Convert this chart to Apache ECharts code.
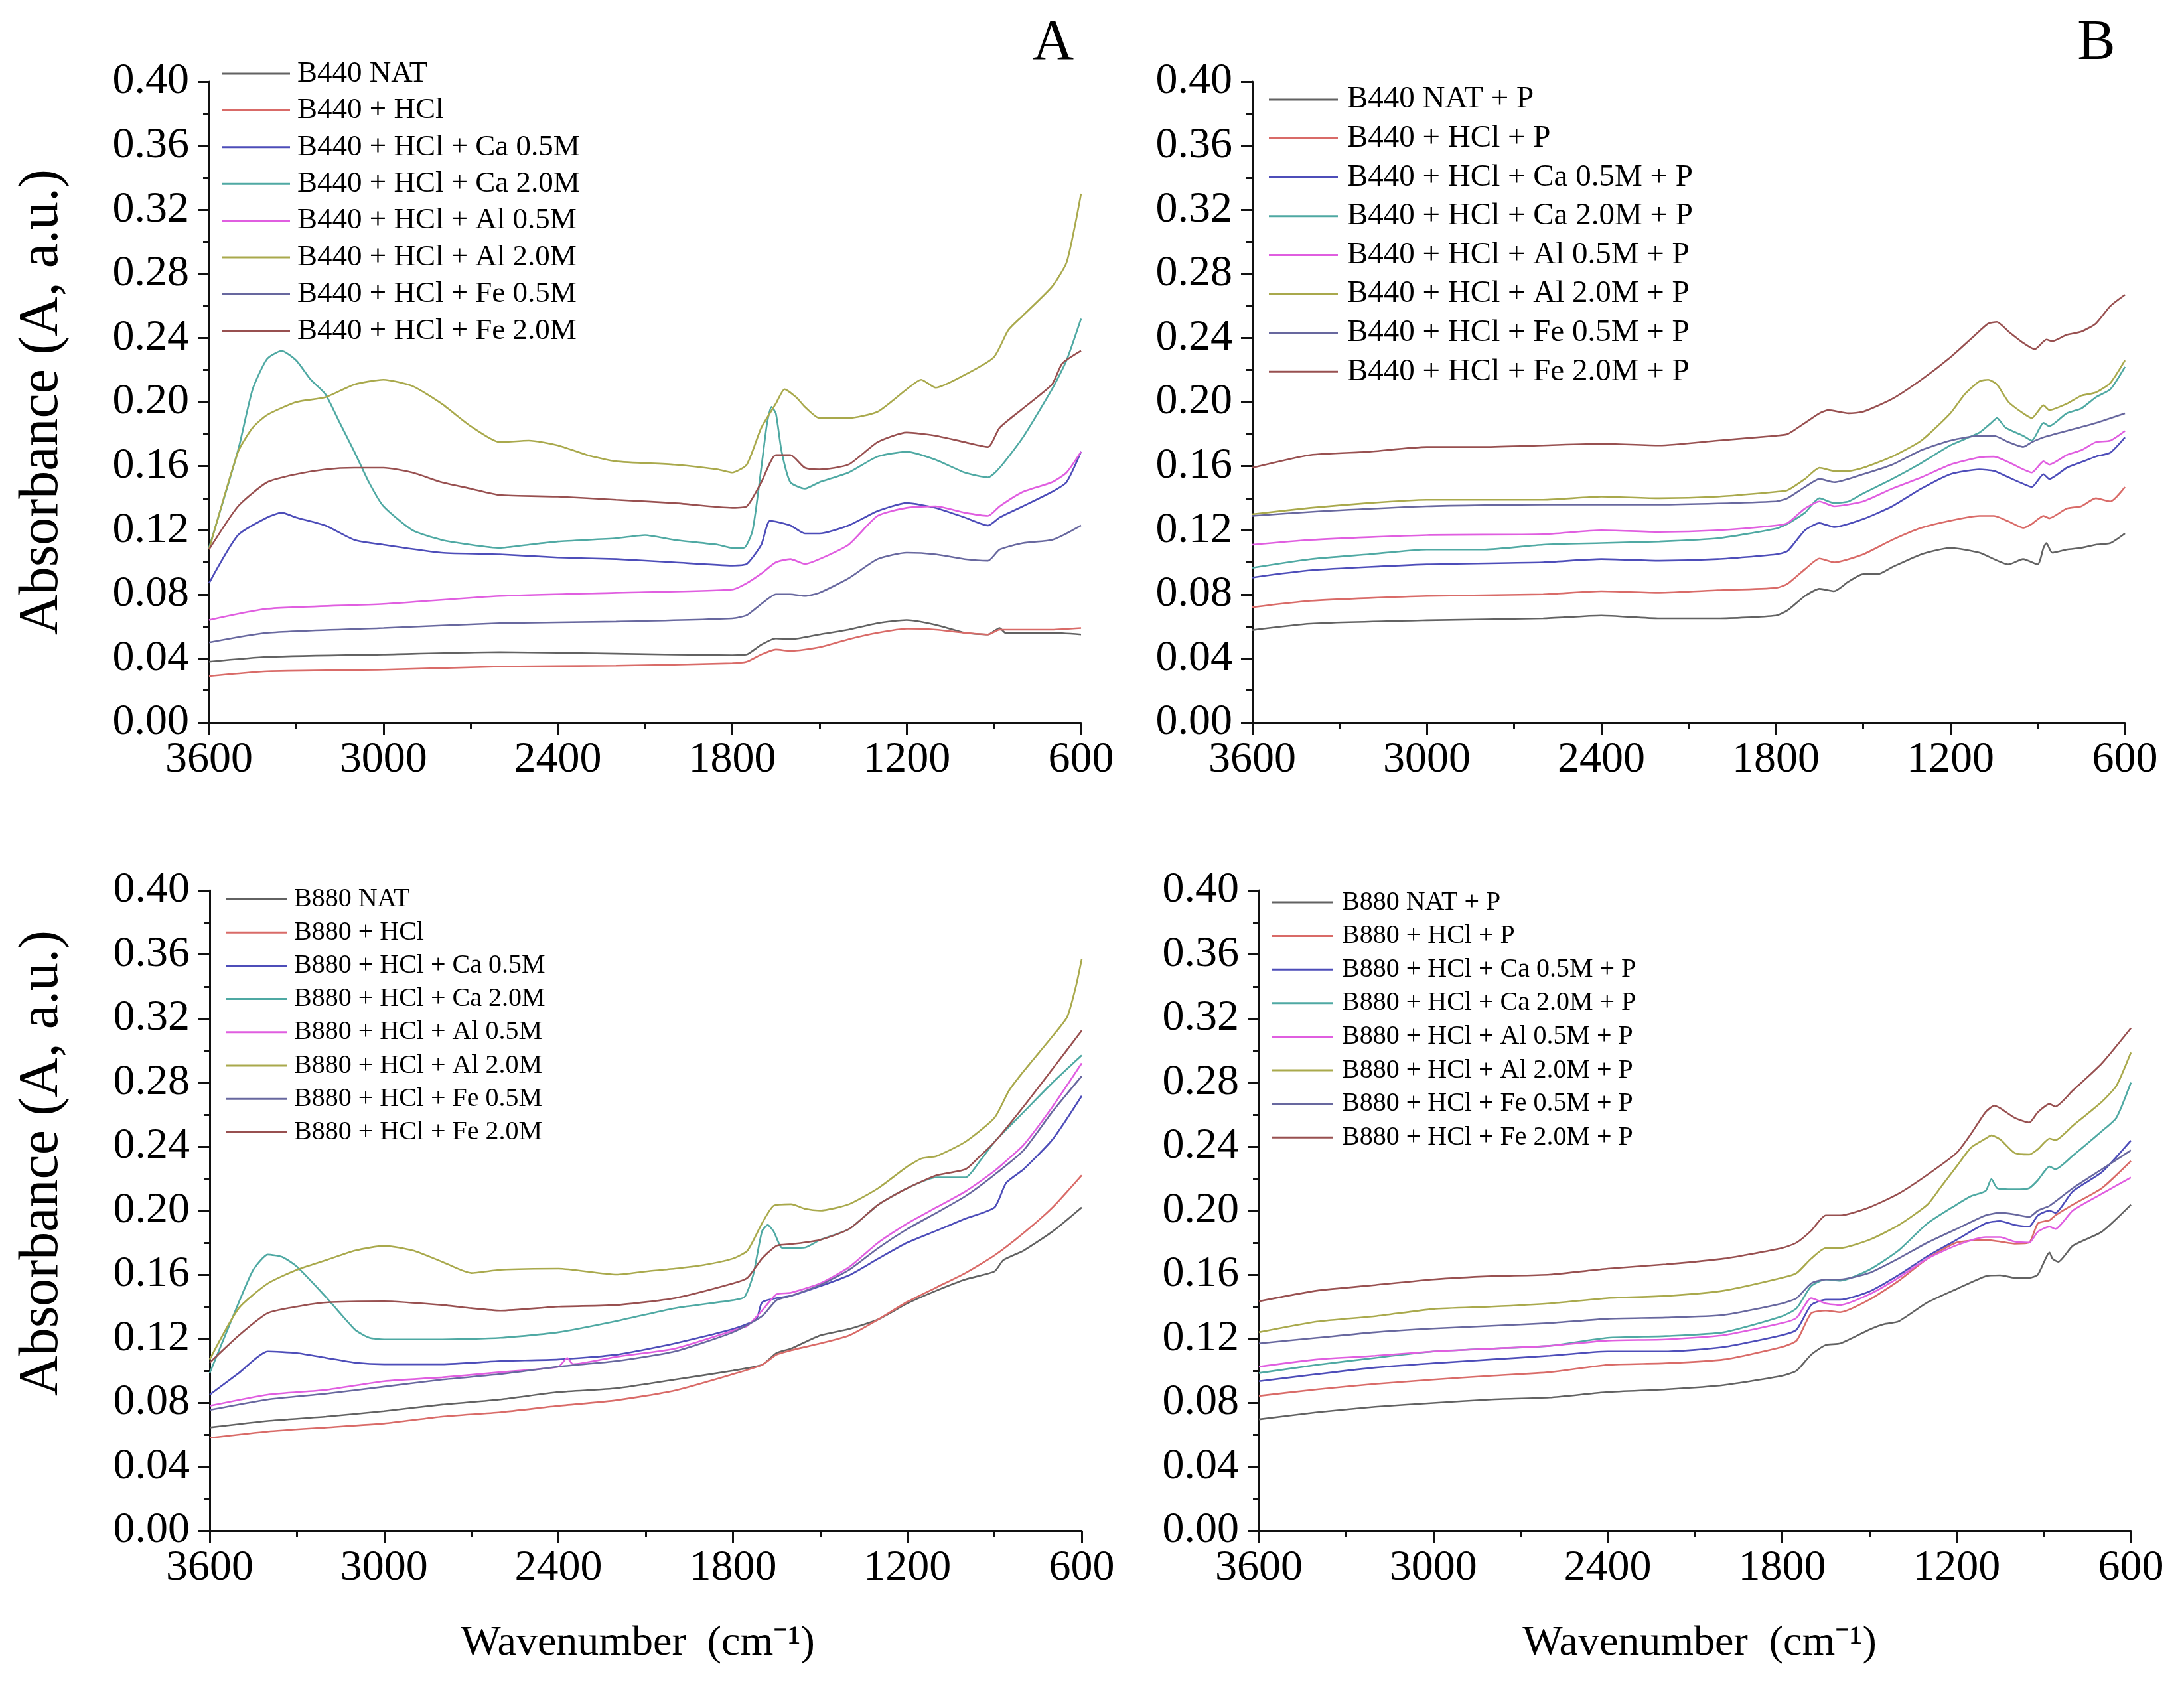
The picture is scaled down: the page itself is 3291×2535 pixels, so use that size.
<!DOCTYPE html>
<html>
<head>
<meta charset="utf-8">
<script src="https://cdn.jsdelivr.net/npm/echarts@6/dist/echarts.min.js"></script>
<style>
  html, body { margin: 0; padding: 0; background: #fff; }
  #chart { width: 3291px; height: 2535px; }
</style>
</head>
<body>
<div id="chart"></div>
<script>
// Espectros FTIR en cuatro paneles: B440 (arriba), B880 (abajo), sin P (izq.) y con P (der.)
// Cada serie: pares [número de onda (cm-1), absorbancia]

const SERIES_KEYS = ['NAT', 'HCl', 'Ca 0.5M', 'Ca 2.0M', 'Al 0.5M', 'Al 2.0M', 'Fe 0.5M', 'Fe 2.0M'];
const COLORS = ['#626262', '#d96b68', '#4d4db9', '#4fa9a3', '#e05ee0', '#a9a94c', '#68689f', '#985050'];

const NAMES_A = ['B440 NAT', 'B440 + HCl', 'B440 + HCl + Ca 0.5M', 'B440 + HCl + Ca 2.0M',
  'B440 + HCl + Al 0.5M', 'B440 + HCl + Al 2.0M', 'B440 + HCl + Fe 0.5M', 'B440 + HCl + Fe 2.0M'];
const NAMES_B = NAMES_A.map(n => n + ' + P');
const NAMES_C = NAMES_A.map(n => n.replace('B440', 'B880'));
const NAMES_D = NAMES_C.map(n => n + ' + P');

const X_TICKS = [600, 3600, 600];      // min, max, intervalo
const Y_TICKS = [0, 0.40, 0.04];

// ---- Panel A: B440 ----
const A_NAT  = [[3600,0.038],[3400,0.041],[3000,0.0425],[2600,0.044],[2200,0.043],[1800,0.042],[1750,0.0425],[1700,0.0486],[1650,0.0525],[1600,0.052],[1500,0.055],[1400,0.058],[1300,0.062],[1200,0.064],[1100,0.061],[1000,0.056],[920,0.055],[880,0.059],[860,0.056],[800,0.056],[700,0.056],[600,0.055]];
const A_HCL  = [[3600,0.029],[3400,0.032],[3000,0.033],[2600,0.035],[2200,0.0355],[1800,0.037],[1750,0.038],[1700,0.0425],[1650,0.0456],[1600,0.0447],[1500,0.047],[1400,0.052],[1300,0.056],[1200,0.0586],[1100,0.058],[1000,0.056],[920,0.055],[880,0.058],[800,0.058],[700,0.058],[600,0.059]];
const A_CA05 = [[3600,0.087],[3500,0.117],[3400,0.128],[3350,0.131],[3300,0.128],[3200,0.123],[3100,0.114],[3000,0.111],[2800,0.106],[2600,0.105],[2400,0.103],[2200,0.102],[2000,0.100],[1800,0.098],[1750,0.099],[1700,0.111],[1670,0.126],[1600,0.123],[1550,0.118],[1500,0.118],[1400,0.123],[1300,0.132],[1200,0.137],[1100,0.134],[1000,0.128],[920,0.123],[880,0.128],[800,0.135],[700,0.144],[650,0.150],[600,0.169]];
const A_CA20 = [[3600,0.109],[3500,0.170],[3450,0.208],[3400,0.227],[3350,0.232],[3300,0.226],[3250,0.214],[3200,0.205],[3150,0.187],[3100,0.169],[3050,0.150],[3000,0.135],[2900,0.120],[2800,0.114],[2700,0.111],[2600,0.109],[2500,0.111],[2400,0.113],[2200,0.115],[2100,0.117],[2000,0.114],[1850,0.111],[1800,0.109],[1760,0.109],[1730,0.120],[1700,0.159],[1680,0.187],[1665,0.197],[1650,0.193],[1630,0.169],[1600,0.150],[1550,0.146],[1500,0.150],[1400,0.156],[1300,0.166],[1200,0.169],[1100,0.164],[1000,0.156],[920,0.153],[880,0.159],[800,0.178],[700,0.208],[650,0.226],[600,0.252]];
const A_AL05 = [[3600,0.064],[3400,0.071],[3000,0.074],[2600,0.079],[2200,0.081],[1800,0.083],[1750,0.087],[1700,0.093],[1650,0.100],[1600,0.102],[1550,0.099],[1500,0.102],[1400,0.111],[1300,0.129],[1200,0.134],[1100,0.135],[1000,0.131],[920,0.129],[880,0.135],[800,0.144],[700,0.150],[650,0.156],[600,0.169]];
const A_AL20 = [[3600,0.108],[3500,0.169],[3450,0.184],[3400,0.192],[3300,0.200],[3200,0.203],[3100,0.211],[3000,0.214],[2900,0.210],[2800,0.199],[2700,0.185],[2600,0.175],[2500,0.176],[2400,0.173],[2300,0.167],[2200,0.163],[2000,0.161],[1850,0.158],[1800,0.156],[1750,0.161],[1700,0.184],[1650,0.199],[1620,0.208],[1580,0.203],[1550,0.197],[1500,0.190],[1400,0.190],[1300,0.194],[1200,0.208],[1150,0.214],[1100,0.209],[1000,0.217],[900,0.228],[850,0.245],[800,0.254],[700,0.272],[650,0.287],[620,0.311],[600,0.330]];
const A_FE05 = [[3600,0.050],[3400,0.056],[3000,0.059],[2600,0.062],[2200,0.063],[1800,0.065],[1750,0.067],[1700,0.074],[1650,0.080],[1600,0.080],[1550,0.079],[1500,0.081],[1400,0.090],[1300,0.102],[1200,0.106],[1100,0.105],[1000,0.102],[920,0.101],[880,0.108],[800,0.112],[700,0.114],[650,0.118],[600,0.123]];
const A_FE20 = [[3600,0.108],[3500,0.135],[3400,0.150],[3300,0.155],[3200,0.158],[3100,0.159],[3000,0.159],[2900,0.156],[2800,0.150],[2700,0.146],[2600,0.142],[2400,0.141],[2200,0.139],[2000,0.137],[1800,0.134],[1750,0.135],[1700,0.150],[1650,0.167],[1600,0.167],[1550,0.159],[1500,0.158],[1400,0.161],[1300,0.175],[1200,0.181],[1100,0.179],[1000,0.175],[920,0.172],[880,0.184],[800,0.196],[700,0.211],[665,0.224],[600,0.232]];

// ---- Panel B: B440 + P ----
const B_NAT  = [[3600,0.0577],[3400,0.0617],[3000,0.0638],[2600,0.065],[2400,0.0668],[2200,0.065],[2000,0.065],[1800,0.0668],[1760,0.070],[1700,0.079],[1650,0.0835],[1600,0.082],[1550,0.088],[1500,0.0926],[1450,0.0926],[1400,0.097],[1300,0.105],[1200,0.109],[1100,0.106],[1000,0.0987],[950,0.102],[900,0.0987],[880,0.109],[870,0.112],[850,0.106],[800,0.108],[750,0.109],[700,0.111],[650,0.112],[600,0.118]];
const B_HCL  = [[3600,0.072],[3400,0.076],[3000,0.079],[2600,0.080],[2400,0.082],[2200,0.081],[2000,0.0826],[1800,0.084],[1760,0.0866],[1700,0.0957],[1650,0.1024],[1600,0.100],[1500,0.105],[1400,0.114],[1300,0.1215],[1200,0.126],[1100,0.129],[1050,0.129],[1000,0.1255],[950,0.1215],[920,0.124],[880,0.129],[860,0.1275],[800,0.1336],[750,0.135],[700,0.140],[650,0.138],[600,0.147]];
const B_CA05 = [[3600,0.0905],[3400,0.095],[3000,0.0987],[2600,0.100],[2400,0.102],[2200,0.101],[2000,0.102],[1800,0.105],[1760,0.107],[1700,0.120],[1650,0.1245],[1600,0.122],[1500,0.127],[1400,0.135],[1300,0.146],[1200,0.155],[1100,0.158],[1050,0.157],[1000,0.153],[950,0.149],[920,0.147],[880,0.155],[860,0.152],[800,0.159],[750,0.1625],[700,0.166],[650,0.1685],[600,0.178]];
const B_CA20 = [[3600,0.0966],[3400,0.102],[3200,0.105],[3000,0.108],[2800,0.108],[2600,0.111],[2400,0.112],[2200,0.113],[2000,0.115],[1800,0.121],[1760,0.124],[1700,0.131],[1650,0.140],[1600,0.137],[1550,0.138],[1500,0.143],[1400,0.152],[1300,0.162],[1200,0.173],[1100,0.181],[1060,0.187],[1040,0.190],[1010,0.184],[950,0.179],[920,0.176],[880,0.187],[860,0.185],[800,0.193],[750,0.196],[700,0.203],[650,0.208],[600,0.222]];
const B_AL05 = [[3600,0.111],[3400,0.114],[3000,0.117],[2600,0.1175],[2400,0.120],[2200,0.119],[2000,0.120],[1800,0.123],[1760,0.1245],[1700,0.1336],[1650,0.138],[1600,0.135],[1500,0.138],[1400,0.146],[1300,0.153],[1200,0.161],[1100,0.1655],[1050,0.166],[1000,0.1625],[950,0.158],[920,0.156],[880,0.163],[860,0.161],[800,0.167],[750,0.170],[700,0.175],[650,0.176],[600,0.182]];
const B_AL20 = [[3600,0.130],[3400,0.134],[3200,0.137],[3000,0.139],[2600,0.139],[2400,0.141],[2200,0.140],[2000,0.141],[1800,0.144],[1760,0.145],[1700,0.152],[1650,0.159],[1600,0.157],[1550,0.157],[1500,0.159],[1400,0.166],[1300,0.176],[1200,0.193],[1150,0.205],[1100,0.213],[1070,0.214],[1040,0.211],[1000,0.200],[950,0.193],[920,0.190],[880,0.198],[860,0.195],[800,0.199],[750,0.204],[700,0.206],[650,0.212],[600,0.226]];
const B_FE05 = [[3600,0.129],[3400,0.1315],[3000,0.135],[2600,0.136],[2200,0.136],[1800,0.138],[1760,0.140],[1700,0.147],[1650,0.152],[1600,0.150],[1500,0.155],[1400,0.161],[1300,0.170],[1200,0.176],[1100,0.179],[1050,0.179],[1000,0.175],[950,0.172],[920,0.175],[880,0.178],[800,0.182],[700,0.187],[600,0.193]];
const B_FE20 = [[3600,0.159],[3400,0.167],[3200,0.169],[3000,0.172],[2800,0.172],[2600,0.173],[2400,0.174],[2200,0.173],[2000,0.176],[1800,0.179],[1760,0.180],[1700,0.187],[1650,0.193],[1620,0.195],[1550,0.193],[1500,0.194],[1400,0.202],[1300,0.214],[1200,0.228],[1120,0.241],[1070,0.249],[1040,0.250],[1000,0.244],[950,0.237],[910,0.233],[870,0.239],[850,0.238],[800,0.242],[750,0.244],[700,0.249],[650,0.260],[600,0.267]];

// ---- Panel C: B880 ----
const C_NAT  = [[3600,0.0645],[3400,0.0686],[3200,0.0713],[3000,0.0747],[2800,0.0788],[2600,0.082],[2400,0.0866],[2200,0.089],[2000,0.0944],[1800,0.100],[1700,0.1036],[1650,0.111],[1600,0.1138],[1500,0.122],[1400,0.126],[1300,0.132],[1200,0.142],[1100,0.150],[1000,0.157],[900,0.162],[870,0.169],[800,0.175],[700,0.187],[600,0.202]];
const C_HCL  = [[3600,0.058],[3400,0.062],[3200,0.0645],[3000,0.067],[2800,0.0713],[2600,0.074],[2400,0.078],[2200,0.0815],[2000,0.0876],[1800,0.0978],[1700,0.1036],[1650,0.110],[1600,0.1127],[1500,0.117],[1400,0.122],[1300,0.132],[1200,0.143],[1100,0.152],[1000,0.161],[900,0.172],[800,0.186],[700,0.202],[600,0.222]];
const C_CA05 = [[3600,0.085],[3500,0.0985],[3400,0.112],[3300,0.111],[3200,0.108],[3100,0.105],[3000,0.104],[2800,0.104],[2600,0.106],[2400,0.107],[2200,0.110],[2000,0.117],[1800,0.126],[1720,0.132],[1700,0.1426],[1650,0.1453],[1600,0.1467],[1500,0.1528],[1400,0.1596],[1300,0.170],[1200,0.180],[1100,0.1874],[1000,0.195],[900,0.202],[860,0.2173],[800,0.2258],[700,0.2445],[600,0.2716]];
const C_CA20 = [[3600,0.0985],[3500,0.1426],[3450,0.163],[3400,0.1725],[3350,0.171],[3300,0.165],[3200,0.146],[3100,0.1256],[3050,0.1205],[3000,0.1195],[2800,0.1195],[2600,0.1205],[2400,0.124],[2200,0.131],[2000,0.139],[1800,0.144],[1760,0.146],[1730,0.160],[1700,0.187],[1680,0.191],[1660,0.187],[1630,0.1766],[1600,0.1766],[1550,0.177],[1500,0.1817],[1400,0.1885],[1300,0.2037],[1200,0.214],[1100,0.2207],[1000,0.2207],[950,0.231],[900,0.243],[800,0.2615],[700,0.280],[600,0.297]];
const C_AL05 = [[3600,0.078],[3400,0.085],[3200,0.088],[3000,0.0934],[2800,0.0958],[2600,0.099],[2400,0.1025],[2370,0.108],[2350,0.104],[2200,0.1087],[2000,0.1138],[1800,0.125],[1750,0.128],[1700,0.1375],[1650,0.1477],[1600,0.1487],[1500,0.1545],[1400,0.1647],[1300,0.180],[1200,0.192],[1100,0.202],[1000,0.212],[900,0.2248],[860,0.231],[800,0.241],[700,0.265],[600,0.292]];
const C_AL20 = [[3600,0.107],[3500,0.139],[3400,0.1545],[3300,0.163],[3200,0.169],[3100,0.175],[3000,0.178],[2900,0.175],[2800,0.168],[2700,0.161],[2600,0.163],[2400,0.1637],[2200,0.160],[2100,0.162],[2000,0.1637],[1900,0.166],[1800,0.170],[1750,0.175],[1700,0.192],[1660,0.203],[1600,0.204],[1550,0.201],[1500,0.200],[1400,0.204],[1300,0.214],[1200,0.2275],[1150,0.2326],[1100,0.234],[1000,0.243],[900,0.258],[850,0.275],[800,0.287],[700,0.309],[650,0.321],[620,0.340],[600,0.357]];
const C_FE05 = [[3600,0.0754],[3400,0.082],[3200,0.0856],[3000,0.090],[2800,0.0944],[2600,0.0978],[2400,0.1025],[2200,0.106],[2000,0.112],[1800,0.124],[1700,0.134],[1650,0.144],[1600,0.1467],[1500,0.1535],[1400,0.163],[1300,0.1766],[1200,0.1885],[1100,0.1986],[1000,0.209],[900,0.2224],[800,0.2377],[700,0.262],[600,0.284]];
const C_FE20 = [[3600,0.105],[3500,0.122],[3400,0.136],[3300,0.140],[3200,0.1426],[3000,0.1433],[2800,0.141],[2700,0.139],[2600,0.1375],[2400,0.140],[2200,0.141],[2000,0.1453],[1800,0.1545],[1750,0.158],[1700,0.170],[1650,0.178],[1600,0.179],[1500,0.1817],[1400,0.1885],[1300,0.2037],[1200,0.214],[1100,0.222],[1000,0.2258],[950,0.234],[900,0.2428],[800,0.265],[700,0.2886],[600,0.3124]];

// ---- Panel D: B880 + P ----
const D_NAT  = [[3600,0.0696],[3400,0.074],[3200,0.0774],[3000,0.0798],[2800,0.082],[2600,0.0832],[2400,0.0866],[2200,0.0883],[2000,0.091],[1800,0.0968],[1750,0.100],[1700,0.110],[1650,0.116],[1600,0.117],[1500,0.1256],[1450,0.129],[1400,0.1307],[1300,0.1426],[1200,0.151],[1100,0.159],[1050,0.1596],[1000,0.158],[950,0.158],[920,0.160],[880,0.1738],[870,0.170],[850,0.168],[800,0.178],[700,0.1868],[600,0.2037]];
const D_HCL  = [[3600,0.0842],[3400,0.0883],[3200,0.0917],[3000,0.0944],[2800,0.0968],[2600,0.099],[2400,0.1036],[2200,0.1046],[2000,0.107],[1800,0.1148],[1750,0.1188],[1700,0.1358],[1650,0.1375],[1600,0.1365],[1500,0.1443],[1400,0.156],[1300,0.170],[1200,0.180],[1100,0.1817],[1050,0.1806],[1000,0.1793],[950,0.180],[920,0.192],[880,0.194],[860,0.197],[800,0.2037],[700,0.214],[600,0.231]];
const D_CA05 = [[3600,0.0934],[3400,0.0978],[3200,0.1019],[3000,0.1046],[2800,0.107],[2600,0.1093],[2400,0.112],[2200,0.112],[2000,0.1148],[1800,0.1222],[1750,0.1256],[1700,0.141],[1650,0.1443],[1600,0.1443],[1500,0.1494],[1400,0.1596],[1300,0.1715],[1200,0.1817],[1100,0.192],[1050,0.1935],[1000,0.191],[950,0.190],[920,0.197],[880,0.200],[860,0.1986],[800,0.212],[700,0.224],[600,0.2438]];
const D_CA20 = [[3600,0.0985],[3400,0.1036],[3200,0.108],[3000,0.112],[2800,0.1138],[2600,0.1155],[2400,0.1205],[2200,0.1216],[2000,0.124],[1800,0.134],[1750,0.139],[1700,0.1528],[1650,0.157],[1600,0.1562],[1500,0.163],[1400,0.175],[1300,0.192],[1200,0.2037],[1150,0.209],[1100,0.2122],[1080,0.2197],[1060,0.214],[1000,0.2132],[950,0.214],[920,0.219],[880,0.2275],[860,0.2258],[800,0.2343],[700,0.2496],[650,0.258],[600,0.280]];
const D_AL05 = [[3600,0.1025],[3400,0.107],[3200,0.1093],[3000,0.112],[2800,0.1138],[2600,0.1155],[2400,0.1188],[2200,0.1195],[2000,0.1222],[1800,0.1297],[1750,0.133],[1700,0.1453],[1650,0.142],[1600,0.141],[1500,0.1477],[1400,0.158],[1300,0.170],[1200,0.1783],[1100,0.1834],[1050,0.1834],[1000,0.1806],[950,0.180],[920,0.1868],[880,0.190],[860,0.1885],[800,0.200],[700,0.2105],[600,0.2207]];
const D_AL20 = [[3600,0.124],[3400,0.1307],[3200,0.134],[3000,0.1385],[2800,0.140],[2600,0.142],[2400,0.1453],[2200,0.1467],[2000,0.150],[1800,0.158],[1750,0.161],[1700,0.170],[1650,0.1766],[1600,0.1766],[1500,0.1817],[1400,0.1908],[1300,0.2037],[1250,0.2156],[1200,0.2275],[1150,0.2394],[1100,0.245],[1080,0.247],[1050,0.2445],[1000,0.236],[950,0.235],[920,0.2384],[880,0.245],[860,0.244],[800,0.253],[700,0.268],[650,0.278],[600,0.2988]];
const D_FE05 = [[3600,0.117],[3400,0.1205],[3200,0.124],[3000,0.1263],[2800,0.128],[2600,0.1297],[2400,0.1324],[2200,0.1331],[2000,0.1348],[1800,0.142],[1750,0.1453],[1700,0.1545],[1650,0.157],[1600,0.157],[1500,0.161],[1400,0.170],[1300,0.180],[1200,0.1885],[1100,0.197],[1050,0.1986],[1000,0.1976],[950,0.196],[920,0.200],[880,0.203],[800,0.214],[700,0.2258],[600,0.2377]];
const D_FE20 = [[3600,0.1433],[3400,0.150],[3200,0.1535],[3000,0.157],[2800,0.159],[2600,0.160],[2400,0.1637],[2200,0.1664],[2000,0.170],[1800,0.1766],[1750,0.180],[1700,0.1874],[1650,0.197],[1600,0.197],[1500,0.202],[1400,0.2105],[1300,0.2224],[1200,0.236],[1150,0.248],[1100,0.2615],[1070,0.2655],[1050,0.264],[1000,0.258],[950,0.255],[920,0.2615],[880,0.2666],[860,0.265],[800,0.275],[700,0.292],[600,0.314]];

const DATA_A = [A_NAT, A_HCL, A_CA05, A_CA20, A_AL05, A_AL20, A_FE05, A_FE20];
const DATA_B = [B_NAT, B_HCL, B_CA05, B_CA20, B_AL05, B_AL20, B_FE05, B_FE20];
const DATA_C = [C_NAT, C_HCL, C_CA05, C_CA20, C_AL05, C_AL20, C_FE05, C_FE20];
const DATA_D = [D_NAT, D_HCL, D_CA05, D_CA20, D_AL05, D_AL20, D_FE05, D_FE20];

const FONT = 'Liberation Serif, Times New Roman, serif';

// posición de cada panel en píxeles (ejes medidos sobre la figura)
const PANELS = [
  { grid: { left: 315,  top: 123,  width: 1314, height: 966 }, names: NAMES_A, data: DATA_A,
    legend: { left: 335,  top: 111,  line: 102, text: 448,  row: 55.4, font: 45 } },
  { grid: { left: 1887, top: 123,  width: 1315, height: 966 }, names: NAMES_B, data: DATA_B,
    legend: { left: 1912, top: 150,  line: 104, text: 2030, row: 58.6, font: 47 } },
  { grid: { left: 316,  top: 1342, width: 1314, height: 965 }, names: NAMES_C, data: DATA_C,
    legend: { left: 340,  top: 1355, line: 93,  text: 443,  row: 50.2, font: 40 } },
  { grid: { left: 1897, top: 1342, width: 1314, height: 965 }, names: NAMES_D, data: DATA_D,
    legend: { left: 1917, top: 1360, line: 92,  text: 2022, row: 50.6, font: 40 } },
];

const axisLine = { show: true, lineStyle: { color: '#111', width: 3 } };

const grids = [], xAxes = [], yAxes = [], legends = [], series = [];
PANELS.forEach((p, i) => {
  grids.push(Object.assign({ containLabel: false }, p.grid));
  xAxes.push({
    type: 'value', gridIndex: i, inverse: true,
    min: X_TICKS[0], max: X_TICKS[1], interval: X_TICKS[2],
    axisLine, splitLine: { show: false },
    axisTick: { show: true, length: 19, lineStyle: { color: '#111', width: 3 } },
    minorTick: { show: true, splitNumber: 2, length: 10, lineStyle: { color: '#111', width: 3 } },
    axisLabel: { color: '#000', fontFamily: FONT, fontSize: 66, margin: 24,
      formatter: v => String(v) },
  });
  yAxes.push({
    type: 'value', gridIndex: i,
    min: Y_TICKS[0], max: Y_TICKS[1], interval: Y_TICKS[2],
    axisLine, splitLine: { show: false },
    axisTick: { show: true, length: 17, lineStyle: { color: '#111', width: 3 } },
    minorTick: { show: true, splitNumber: 2, length: 9, lineStyle: { color: '#111', width: 3 } },
    axisLabel: { color: '#000', fontFamily: FONT, fontSize: 66, margin: 30,
      formatter: v => v.toFixed(2) },
  });
  const L = p.legend;
  const lh = L.font;
  legends.push({
    data: p.names, orient: 'vertical', selectedMode: false,
    left: L.left, top: L.top - lh / 2, padding: 0,
    icon: 'rect', itemWidth: L.line, itemHeight: 3, itemGap: L.row - lh,
    textStyle: { color: '#000', fontFamily: FONT, fontSize: L.font, lineHeight: lh,
      padding: [0, 0, 0, L.text - (L.left + L.line) - 5] },
  });
  p.data.forEach((d, k) => {
    series.push({
      name: p.names[k], type: 'line', xAxisIndex: i, yAxisIndex: i,
      data: d, symbol: 'none', showSymbol: false, smooth: 0.2,
      lineStyle: { color: COLORS[k], width: 2.6 }, itemStyle: { color: COLORS[k] },
      silent: true, z: 2 + k,
    });
  });
});

const yTitle = (x, y) => ({
  type: 'text', x, y, rotation: Math.PI / 2,
  style: { text: 'Absorbance (A, a.u.)', font: `84px ${FONT}`, fill: '#000',
    align: 'center', verticalAlign: 'middle' },
});
const xTitle = (x, y) => ({
  type: 'text', x, y,
  style: { text: 'Wavenumber  (cm\u207B\u00B9)', font: `64px ${FONT}`, fill: '#000',
    align: 'center', verticalAlign: 'middle' },
});
const letter = (t, x, y) => ({
  type: 'text', x, y,
  style: { text: t, font: `86px ${FONT}`, fill: '#000', align: 'center', verticalAlign: 'middle' },
});

const chart = echarts.init(document.getElementById('chart'), null, { renderer: 'canvas' });
chart.setOption({
  backgroundColor: '#fff',
  animation: false,
  grid: grids,
  xAxis: xAxes,
  yAxis: yAxes,
  legend: legends,
  series,
  graphic: [
    letter('A', 1587, 66), letter('B', 3159, 66),
    yTitle(64, 606), yTitle(64, 1753),
    xTitle(961, 2477), xTitle(2561, 2477),
  ],
});
</script>
</body>
</html>
